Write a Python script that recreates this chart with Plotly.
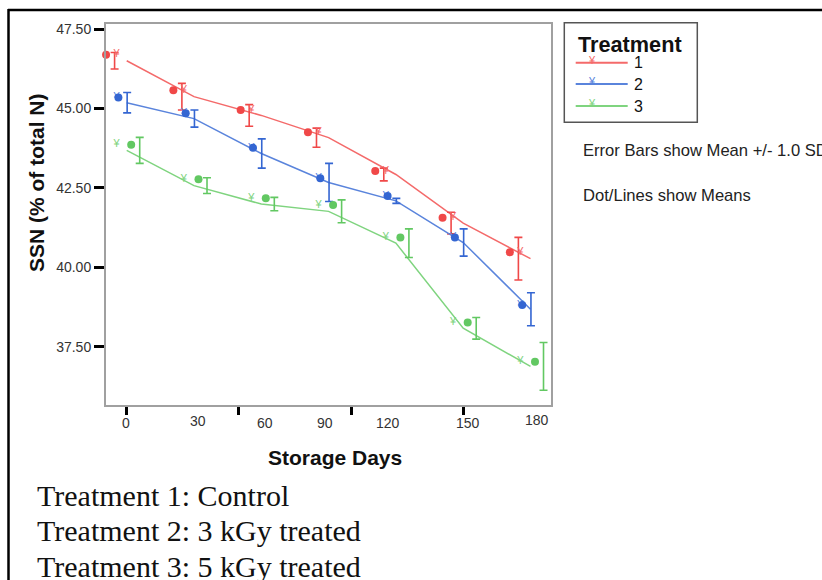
import plotly.graph_objects as go

# ---------------- data ----------------
days = [0, 30, 60, 90, 120, 150, 180]
day_labels = ["0", "30", "60", "90", "120", "150", "180"]
treatments = ["1", "2", "3"]

mean_t1 = [46.50, 45.37, 44.78, 44.08, 42.92, 41.39, 40.27]
mean_t2 = [45.18, 44.68, 43.58, 42.67, 42.09, 40.78, 38.68]
mean_t3 = [43.68, 42.57, 41.99, 41.76, 40.76, 38.08, 36.88]

sd_t1 = [0.26, 0.42, 0.34, 0.30, 0.20, 0.34, 0.67]
sd_t2 = [0.32, 0.27, 0.46, 0.60, 0.08, 0.43, 0.52]
sd_t3 = [0.41, 0.25, 0.21, 0.36, 0.45, 0.34, 0.75]

dot_t1 = [46.69, 45.57, 44.95, 44.25, 43.03, 41.56, 40.47]
dot_t2 = [45.34, 44.85, 43.76, 42.80, 42.24, 40.94, 38.81]
dot_t3 = [43.86, 42.77, 42.17, 41.96, 40.94, 38.26, 37.03]

y_ticks = [37.5, 40.0, 42.5, 45.0, 47.5]
x_ticks = [0, 50, 100, 150]

legend_notes = ["Error Bars show Mean +/- 1.0 SD", "Dot/Lines show Means"]
footer_lines = ["Treatment 1: Control", "Treatment 2: 3 kGy treated", "Treatment 3: 5 kGy treated"]

# ---------------- styles ----------------
line_cols = ["#f46a6a", "#5a84dc", "#7fd47f"]
mark_cols = ["#f04848", "#3466d2", "#62c862"]
err_off = [-5.4, 0.2, 5.8]      # dodge of error bars (days)
dot_off = [-9.2, -3.7, 2.0]     # dodge of dots (days)
sym_off = -4.5                  # dodge of the small glyphs (days)
lbl_xshift = [-1, 4, 4, -4, -8, 5, 6]
lbl_ypix = [423, 421, 423, 423, 423, 423, 420]

SANS = "Liberation Sans, Arial, sans-serif"
SERIF = "Liberation Serif, Times New Roman, serif"

L, R, T, B = 106, 551, 24, 405
W, H = 822, 580


def fx(px):
    return (px - L) / (R - L)


def fy(py):
    return (B - py) / (B - T)


means = [mean_t1, mean_t2, mean_t3]
sds = [sd_t1, sd_t2, sd_t3]
dots = [dot_t1, dot_t2, dot_t3]

fig = go.Figure()

for i in range(3):
    # mean line
    fig.add_trace(go.Scatter(x=days, y=means[i], mode="lines",
                             line=dict(color=line_cols[i], width=1.5),
                             showlegend=False, hoverinfo="skip"))
    # error bars
    fig.add_trace(go.Scatter(x=[d + err_off[i] for d in days], y=means[i], mode="markers",
                             marker=dict(size=2, color="rgba(0,0,0,0)"),
                             error_y=dict(type="data", array=sds[i], visible=True,
                                          color=mark_cols[i], thickness=1.6, width=4),
                             showlegend=False, hoverinfo="skip", cliponaxis=False))
    # small glyphs
    fig.add_trace(go.Scatter(x=[d + sym_off for d in days], y=dots[i], mode="text",
                             text=["¥"] * len(days),
                             textfont=dict(size=11, color=line_cols[i], family=SANS),
                             showlegend=False, hoverinfo="skip", cliponaxis=False))
    # dots
    fig.add_trace(go.Scatter(x=[d + dot_off[i] for d in days], y=dots[i], mode="markers",
                             marker=dict(size=8, color=mark_cols[i], symbol="circle"),
                             showlegend=False, hoverinfo="skip", cliponaxis=False))

x_per_px = 30 / 67.3
x0 = (L - 126.7) * x_per_px
x1 = (R - 126.7) * x_per_px
y_per_px = 1 / 31.77
ytop = 47.5 + (29 - T) * y_per_px
ybot = 47.5 - (B - 29) * y_per_px

ann = []
# x tick labels
for d, lab, xs, yp in zip(days, day_labels, lbl_xshift, lbl_ypix):
    ann.append(dict(x=d, y=fy(yp), xref="x", yref="paper", text=lab, showarrow=False,
                    xshift=xs, font=dict(family=SANS, size=14, color="#333"),
                    xanchor="center", yanchor="middle"))
# axis titles
ann.append(dict(x=fx(334.5), y=fy(458), xref="paper", yref="paper", text="<b>Storage Days</b>",
                showarrow=False, font=dict(family=SANS, size=21, color="#111"),
                xanchor="center", yanchor="middle"))
ann.append(dict(x=fx(36), y=fy(183), xref="paper", yref="paper", text="<b>SSN (% of total N)</b>",
                showarrow=False, textangle=-90, font=dict(family=SANS, size=21, color="#111"),
                xanchor="center", yanchor="middle"))
# legend
ann.append(dict(x=fx(576), y=fy(44), xref="paper", yref="paper", text="<b>Treatment</b>",
                showarrow=False, font=dict(family=SANS, size=21.7, color="#111"),
                xanchor="left", yanchor="middle"))
leg_y = [62.7, 84, 106]
shapes = []
for i in range(3):
    shapes.append(dict(type="line", xref="paper", yref="paper", x0=fx(575.7), x1=fx(627.7),
                       y0=fy(leg_y[i]), y1=fy(leg_y[i]), line=dict(color=line_cols[i], width=2)))
    ann.append(dict(x=fx(592.3), y=fy(leg_y[i] - 3), xref="paper", yref="paper", text="¥",
                    showarrow=False, font=dict(family=SANS, size=11, color=line_cols[i]),
                    xanchor="center", yanchor="middle"))
    ann.append(dict(x=fx(632), y=fy(leg_y[i]), xref="paper", yref="paper", text=treatments[i],
                    showarrow=False, font=dict(family=SANS, size=16, color="#111"),
                    xanchor="left", yanchor="middle"))
shapes.append(dict(type="rect", xref="paper", yref="paper", x0=fx(564.3), x1=fx(697.3),
                   y0=fy(122.3), y1=fy(22.7), line=dict(color="#555", width=1.5)))
for txt, yp in zip(legend_notes, [150.7, 195]):
    ann.append(dict(x=fx(581), y=fy(yp), xref="paper", yref="paper", text=txt, showarrow=False,
                    font=dict(family=SANS, size=16.6, color="#222"), xanchor="left", yanchor="middle"))
# footer
for txt, yp in zip(footer_lines, [495, 530.5, 566]):
    ann.append(dict(x=fx(35), y=fy(yp), xref="paper", yref="paper", text=txt, showarrow=False,
                    font=dict(family=SERIF, size=30, color="#111"), xanchor="left", yanchor="middle"))

# outer black border (top & left)
shapes.append(dict(type="line", xref="paper", yref="paper", x0=fx(8), x1=fx(822),
                   y0=fy(10), y1=fy(10), line=dict(color="black", width=2.5)))
shapes.append(dict(type="line", xref="paper", yref="paper", x0=fx(8.5), x1=fx(8.5),
                   y0=fy(9), y1=fy(582), line=dict(color="black", width=2.5)))

fig.update_layout(
    width=W, height=H,
    margin=dict(l=L, r=W - R, t=T, b=H - B, pad=0),
    paper_bgcolor="white", plot_bgcolor="white",
    showlegend=False,
    annotations=ann, shapes=shapes,
    xaxis=dict(range=[x0, x1], tickvals=x_ticks, ticktext=[""] * len(x_ticks),
               ticks="outside", ticklen=8, tickwidth=3, tickcolor="black",
               showline=True, mirror=True, linecolor="#a0a0a0", linewidth=2,
               showgrid=False, zeroline=False),
    yaxis=dict(range=[ybot, ytop], tickvals=y_ticks, tickformat=".2f",
               ticks="outside", ticklen=10, tickwidth=3, tickcolor="black",
               tickfont=dict(family=SANS, size=14, color="#333"),
               showline=True, mirror=True, linecolor="#a0a0a0", linewidth=2,
               showgrid=False, zeroline=False),
)

fig.write_html("out.html")
